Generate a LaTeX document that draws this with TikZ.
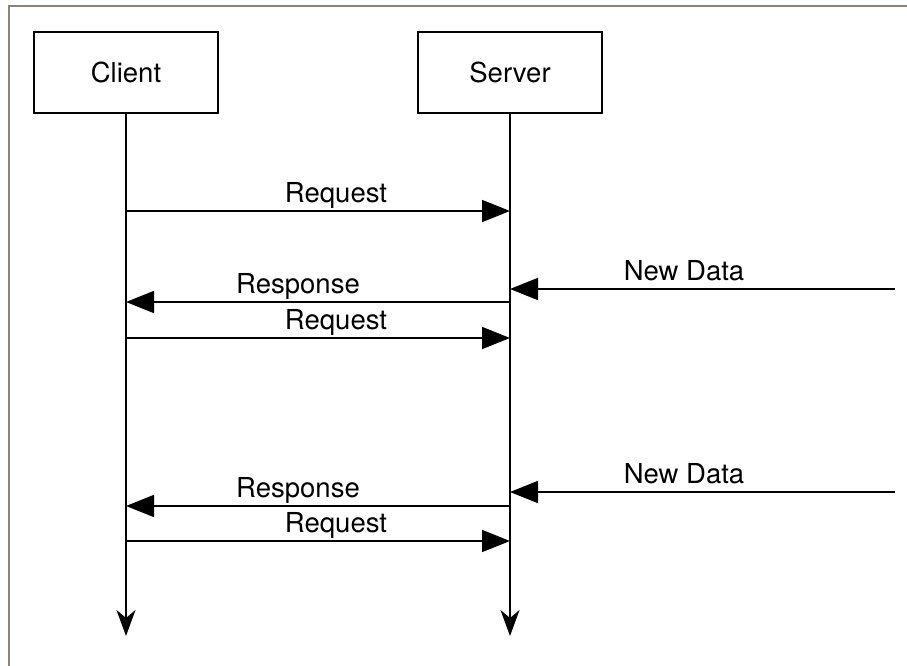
\documentclass[tikz,border=0pt]{standalone}
\usepackage{fontspec}
\setmainfont{TeX Gyre Heros}
\usetikzlibrary{arrows.meta}
\begin{document}
\begin{tikzpicture}[x=1pt,y=-1pt,
  actor/.style={draw,line width=1.8pt,minimum width=184pt,minimum height=81pt,inner sep=0pt,font=\fontsize{27.5}{32}\selectfont},
  life/.style={line width=1.8pt,-{Stealth[length=26pt,width=19pt,inset=8pt]}},
  msg/.style={line width=1.8pt,-{Triangle[length=28pt,width=22pt]}},
  lbl/.style={anchor=base,inner sep=0pt,font=\fontsize{27.5}{32}\selectfont}]
\useasboundingbox (0,0) rectangle (907,666);
\draw[line width=2pt,color={rgb,255:red,138;green,132;blue,122}] (9,666) -- (9,6) -- (907,6);
\node[actor] (client) at (126,72.5) {Client};
\node[actor] (server) at (510,72.5) {Server};
\coordinate (cend) at (126,636);
\coordinate (send) at (510,636);
\draw[life] (client.south) -- (cend);
\draw[life] (server.south) -- (send);
% message points
\coordinate (c1) at (126,211); \coordinate (s1) at (510,211);
\coordinate (c2) at (126,302); \coordinate (s2) at (510,302);
\coordinate (c3) at (126,338); \coordinate (s3) at (510,338);
\coordinate (n1) at (895,289); \coordinate (s4) at (510,289);
\coordinate (c5) at (126,506); \coordinate (s5) at (510,506);
\coordinate (c6) at (126,541); \coordinate (s6) at (510,541);
\coordinate (n2) at (895,492); \coordinate (s7) at (510,492);
\draw[msg] (c1) -- (s1);
\draw[msg] (s2) -- (c2);
\draw[msg] (c3) -- (s3);
\draw[msg] (n1) -- (s4);
\draw[msg] (s5) -- (c5);
\draw[msg] (c6) -- (s6);
\draw[msg] (n2) -- (s7);
\node[lbl] (l1) at (336,202) {Request};
\node[lbl] (l2) at (298,293) {Response};
\node[lbl] (l3) at (336,329) {Request};
\node[lbl] (l4) at (684,280) {New Data};
\node[lbl] (l5) at (298,497) {Response};
\node[lbl] (l6) at (336,532) {Request};
\node[lbl] (l7) at (684,483) {New Data};
\end{tikzpicture}
\end{document}
